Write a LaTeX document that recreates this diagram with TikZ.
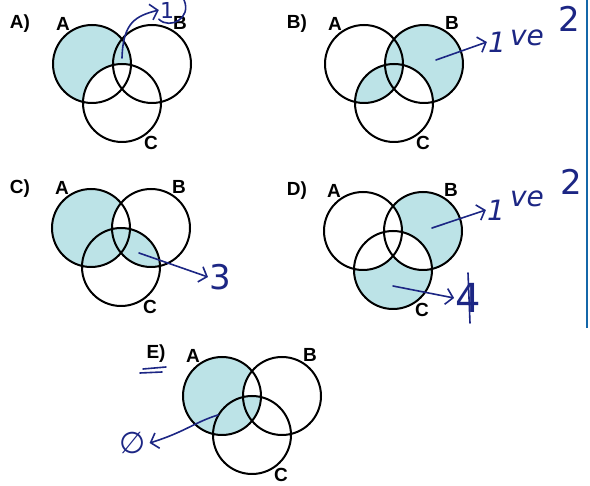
\documentclass[tikz,border=0pt]{standalone}
\usepackage{fontspec}
\setmainfont{Liberation Sans}
\newfontfamily\penfont{DejaVu Sans}
\usetikzlibrary{arrows.meta}
\definecolor{tint}{RGB}{188,227,231}
\definecolor{ink}{RGB}{28,38,132}

\tikzset{
  ring/.style={draw=black,line width=2pt},
  setlbl/.style={font=\bfseries\fontsize{19}{22}\selectfont},
  pen/.style={ink,line width=1.6pt,line cap=round,line join=round},
  penarrow/.style={pen,-{Straight Barb[length=7pt,width=16pt,line width=1.6pt]}},
  pentext/.style={ink,font=\penfont\itshape\fontsize{28}{30}\selectfont,inner sep=1pt},
  penbig/.style={pentext,font=\penfont\fontsize{34}{36}\selectfont}
}

\begin{document}
\begin{tikzpicture}[x=1pt,y=-1pt]
  \useasboundingbox (0,0) rectangle (590,486);
  \def\r{39}
  % centres of the three rings, one set per choice
  \foreach \k/\x/\y in {a/92/64,b/364/64,c/91/228,d/363/231,e/222/396} {
    \coordinate (\k A) at (\x,\y);
    \coordinate (\k B) at (\x+60,\y);
    \coordinate (\k C) at (\x+30,\y+39);
    \node[setlbl] (\k lA) at (\x-29,\y-40) {A};
    \node[setlbl] (\k lB) at (\x+88,\y-41) {B};
    \node[setlbl] (\k lC) at (\x+59,\y+79) {C};
  }
  \node[setlbl] (aopt) at (20,24) {A)};
  \node[setlbl] (bopt) at (297,24) {B)};
  \node[setlbl] (copt) at (20,189) {C)};
  \node[setlbl] (dopt) at (297,191) {D)};
  \node[setlbl] (eopt) at (156,354) {E)};

  % A) A minus C
  \fill[tint] (aA) circle (\r);
  \begin{scope} \clip (aA) circle (\r); \fill[white] (aC) circle (\r); \end{scope}
  % B) (B minus C) or (A and C)
  \fill[tint] (bB) circle (\r);
  \fill[white] (bC) circle (\r);
  \begin{scope} \clip (bA) circle (\r); \fill[tint] (bC) circle (\r); \end{scope}
  % C) (A minus B) or (B and C)
  \fill[tint] (cA) circle (\r);
  \fill[white] (cB) circle (\r);
  \begin{scope} \clip (cC) circle (\r); \fill[tint] (cB) circle (\r); \end{scope}
  % D) only B, only C
  \fill[tint] (dB) circle (\r);
  \fill[tint] (dC) circle (\r);
  \begin{scope} \clip (dB) circle (\r); \fill[white] (dC) circle (\r); \end{scope}
  \fill[white] (dA) circle (\r);
  % E) (A minus B) or (A and C)
  \fill[tint] (eA) circle (\r);
  \fill[white] (eB) circle (\r);
  \begin{scope} \clip (eA) circle (\r); \fill[tint] (eC) circle (\r); \end{scope}

  \foreach \k in {a,b,c,d,e}
    \draw[ring] (\k A) circle (\r) (\k B) circle (\r) (\k C) circle (\r);

  % pen marks
  \node[pentext,font=\penfont\fontsize{22}{24}\selectfont] (aone) at (167,10) {1};
  \coordinate (apt) at (122,58);
  \draw[penarrow] (apt) .. controls (123,22) and (136,16) .. (aone.west);
  \draw[pen] (aone.south west) .. controls (170,30) and (192,18) .. (184,0);

  \node[pentext] (bone) at (497,42) {1};
  \node[pentext] (bve) at (527,38) {ve};
  \node[penbig] (btwo) at (569,19) {2};
  \coordinate (bpt) at (436,60);
  \draw[penarrow] (bpt) -- (bone.west);

  \node[penbig] (cnote) at (220,277) {3};
  \coordinate (cpt) at (139,253);
  \draw[penarrow] (cpt) -- (cnote.west);

  \node[pentext] (done) at (496,210) {1};
  \node[pentext] (dve) at (527,199) {ve};
  \node[penbig] (dtwo) at (571,182) {2};
  \coordinate (dpt) at (432,228);
  \draw[penarrow] (dpt) -- (done.west);
  \node[penbig,font=\penfont\fontsize{40}{42}\selectfont] (dfour) at (468,298) {4};
  \coordinate (dpt2) at (393,286);
  \draw[penarrow] (dpt2) -- (dfour.west);
  \draw[pen] (468,273) -- (470,323);

  \node[ink,font=\penfont\fontsize{30}{32}\selectfont] (enull) at (133,443) {∅};
  \coordinate (ept) at (218,415);
  \draw[penarrow] (ept) .. controls (195,422) and (185,432) .. (enull.east);
  \draw[pen] (143,369) -- (166,367) (140,373) -- (162,372);

  % page edge
  \draw[ink!70!cyan,line width=2pt] (587,0) -- (587,328);
\end{tikzpicture}
\end{document}
